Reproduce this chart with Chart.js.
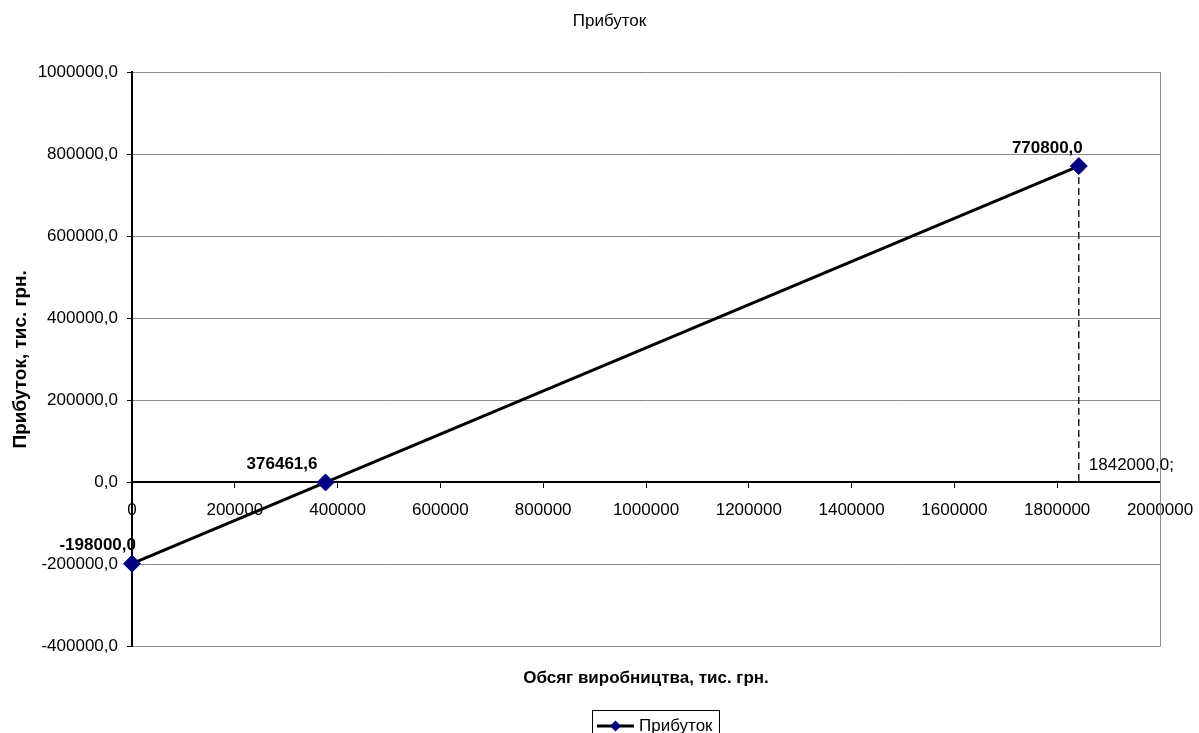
<!DOCTYPE html>
<html>
<head>
<meta charset="utf-8">
<script src="https://cdn.jsdelivr.net/npm/chart.js@4/dist/chart.umd.min.js"></script>
<style>
  html, body { margin: 0; padding: 0; background: #ffffff; }
  canvas { display: block; }
</style>
</head>
<body>
<canvas id="chart" width="1199" height="733"></canvas>
<script>
// Break-even chart: profit as a function of production volume
const chartTitle = 'Прибуток';
const seriesName = 'Прибуток';
const xAxisTitle = 'Обсяг виробництва, тис. грн.';
const yAxisTitle = 'Прибуток, тис. грн.';

const volume = [0, 376461.6, 1842000];
const profit = [-198000, 0, 770800];

const xTickValues = [0, 200000, 400000, 600000, 800000, 1000000, 1200000, 1400000, 1600000, 1800000, 2000000];
const yTickValues = [-400000, -200000, 0, 200000, 400000, 600000, 800000, 1000000];

const FONT = "'Liberation Sans', Arial, sans-serif";
const NAVY = '#000080';

const fmt1 = v => v.toFixed(1).replace('.', ',');

const profitPoints = volume.map((x, i) => ({ x, y: profit[i] }));
const last = profitPoints.length - 1;
// vertical drop line from the last point down to the zero level
const dropPoints = [
  { x: volume[last], y: profit[last] },
  { x: volume[last], y: 0 }
];

Chart.defaults.font.family = FONT;
Chart.defaults.font.size = 17;
Chart.defaults.color = '#000000';

// chart heading and the gray right edge of the plot
const plotFrame = {
  id: 'plotFrame',
  beforeDatasetsDraw(chart) {
    const { ctx, chartArea: a } = chart;
    ctx.save();
    ctx.strokeStyle = '#8c8c8c';
    ctx.lineWidth = 1;
    ctx.beginPath();
    ctx.moveTo(Math.round(a.right) + 0.5, a.top);
    ctx.lineTo(Math.round(a.right) + 0.5, a.bottom);
    ctx.stroke();

    ctx.fillStyle = '#000';
    ctx.font = '17px ' + FONT;
    ctx.textAlign = 'center';
    ctx.textBaseline = 'middle';
    ctx.fillText(chartTitle, 609.5, 21);
    ctx.restore();
  }
};

// value labels next to the points; the zero-profit point shows its volume
const valueLabels = {
  id: 'valueLabels',
  afterDatasetsDraw(chart) {
    const { ctx } = chart;
    ctx.save();
    ctx.textBaseline = 'middle';
    ctx.fillStyle = '#000';

    ctx.font = 'bold 17px ' + FONT;
    ctx.textAlign = 'right';
    chart.getDatasetMeta(0).data.forEach((el, i) => {
      const text = profit[i] === 0 ? fmt1(volume[i]) : fmt1(profit[i]);
      const dx = profit[i] === 0 ? -8 : 4;
      ctx.fillText(text, el.x + dx, el.y - 18);
    });

    const base = chart.getDatasetMeta(1).data[1];
    ctx.font = '17px ' + FONT;
    ctx.textAlign = 'left';
    ctx.fillText(fmt1(dropPoints[1].x) + ';', base.x + 10, base.y - 17);
    ctx.restore();
  }
};

// framed legend entry below the axis title
const framedLegend = {
  id: 'framedLegend',
  afterDraw(chart) {
    const { ctx } = chart;
    const ds = chart.data.datasets[0];
    const left = 592.5, top = 710.5, w = 127, h = 30;
    const cy = 726;
    ctx.save();
    ctx.fillStyle = '#fff';
    ctx.fillRect(left, top, w, h);
    ctx.strokeStyle = '#000';
    ctx.lineWidth = 1;
    ctx.strokeRect(left, top, w, h);

    ctx.strokeStyle = ds.borderColor;
    ctx.lineWidth = 3;
    ctx.beginPath();
    ctx.moveTo(597, cy);
    ctx.lineTo(634, cy);
    ctx.stroke();

    const r = 5.5, cx = 615.5;
    ctx.fillStyle = NAVY;
    ctx.beginPath();
    ctx.moveTo(cx - r, cy);
    ctx.lineTo(cx, cy - r);
    ctx.lineTo(cx + r, cy);
    ctx.lineTo(cx, cy + r);
    ctx.closePath();
    ctx.fill();

    ctx.fillStyle = '#000';
    ctx.font = '17px ' + FONT;
    ctx.textAlign = 'left';
    ctx.textBaseline = 'middle';
    ctx.fillText(ds.label, 639, cy);
    ctx.restore();
  }
};

new Chart(document.getElementById('chart'), {
  type: 'scatter',
  data: {
    datasets: [
      {
        label: seriesName,
        data: profitPoints,
        showLine: true,
        borderColor: '#000000',
        borderWidth: 3,
        pointStyle: 'rectRot',
        pointRadius: 8.5,
        pointHoverRadius: 8.5,
        pointBackgroundColor: NAVY,
        pointBorderColor: NAVY,
        pointBorderWidth: 1,
        clip: false
      },
      {
        label: 'drop',
        data: dropPoints,
        showLine: true,
        borderColor: '#000000',
        borderWidth: 1.3,
        borderDash: [7, 4],
        pointRadius: 0,
        pointHoverRadius: 0,
        clip: false
      }
    ]
  },
  options: {
    responsive: false,
    animation: false,
    devicePixelRatio: 1,
    layout: { padding: { left: 0, right: 39, top: 72, bottom: 44 } },
    plugins: {
      legend: { display: false },
      tooltip: { enabled: false },
      title: { display: false }
    },
    scales: {
      x: {
        type: 'linear',
        position: { y: 0 },
        min: xTickValues[0],
        max: xTickValues[xTickValues.length - 1],
        afterBuildTicks: s => { s.ticks = xTickValues.map(v => ({ value: v })); },
        afterFit: s => { s.paddingLeft = 0; s.paddingRight = 0; },
        ticks: {
          callback: v => String(v),
          padding: 13,
          maxRotation: 0,
          autoSkip: false,
          color: '#000'
        },
        grid: {
          drawOnChartArea: false,
          drawTicks: true,
          tickLength: 5,
          tickColor: '#000',
          tickWidth: 1
        },
        border: { color: '#000', width: 2 }
      },
      xTitle: {
        type: 'linear',
        axis: 'x',
        position: 'bottom',
        display: true,
        afterFit: s => { s.paddingLeft = 0; s.paddingRight = 0; },
        ticks: { display: false },
        grid: { display: false, drawTicks: false },
        border: { display: false },
        title: {
          display: true,
          text: xAxisTitle,
          color: '#000',
          font: { size: 17, weight: 'bold' },
          padding: { top: 22, bottom: 0 }
        }
      },
      y: {
        type: 'linear',
        position: 'left',
        min: yTickValues[0],
        max: yTickValues[yTickValues.length - 1],
        afterBuildTicks: s => { s.ticks = yTickValues.map(v => ({ value: v })); },
        afterFit: s => { s.width = 132; },
        ticks: {
          callback: v => fmt1(v),
          padding: 9,
          color: '#000'
        },
        grid: {
          color: '#8c8c8c',
          lineWidth: 1,
          drawTicks: true,
          tickLength: 5,
          tickColor: '#000',
          tickWidth: 1
        },
        border: { color: '#000', width: 2 },
        title: {
          display: true,
          text: yAxisTitle,
          color: '#000',
          font: { size: 19, weight: 'bold' },
          padding: { top: 9, bottom: 0 }
        }
      }
    }
  },
  plugins: [plotFrame, valueLabels, framedLegend]
});
</script>
</body>
</html>
